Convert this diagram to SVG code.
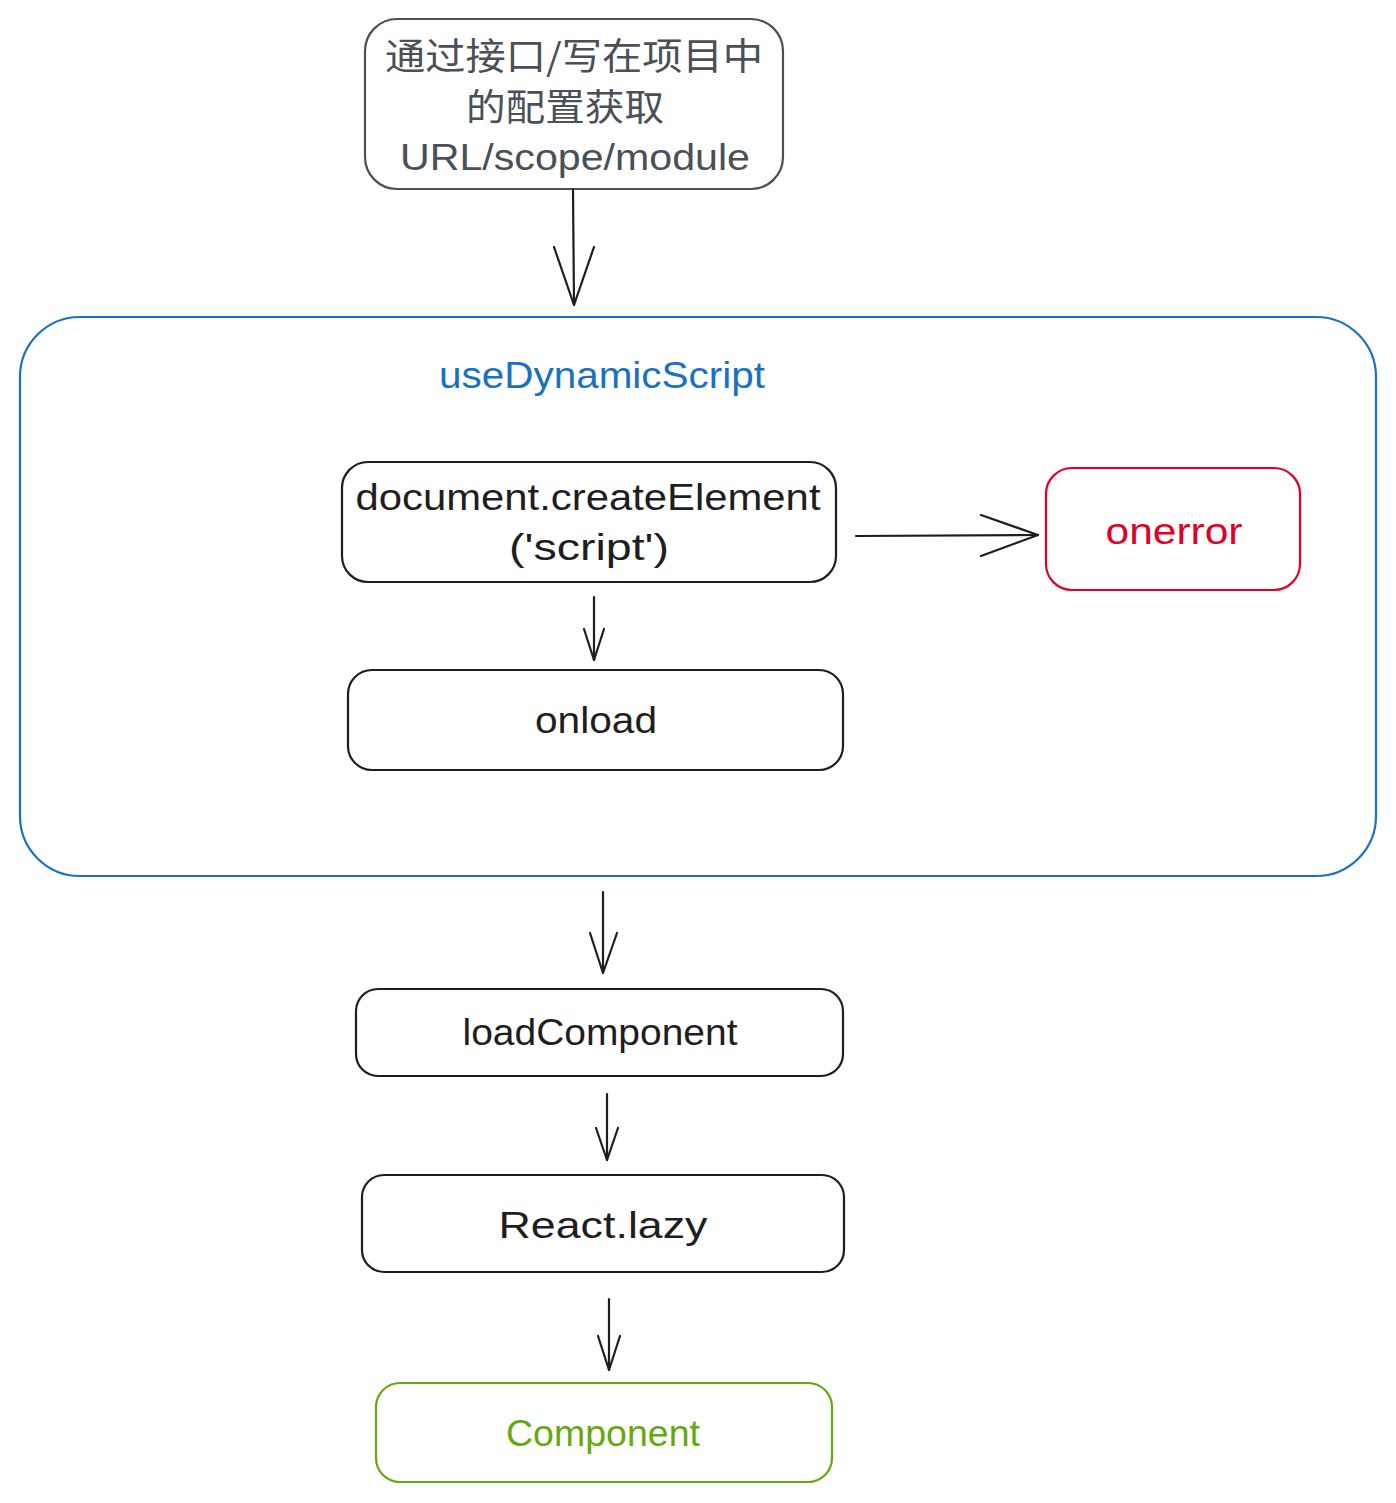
<svg xmlns="http://www.w3.org/2000/svg" width="1396" height="1503" viewBox="0 0 1396 1503">
<style>
.box{fill:none;stroke:#1e1e1e;stroke-width:2.2}
.t{font-family:"Liberation Sans","Noto Sans CJK SC",sans-serif;font-size:36px;fill:#1e1e1e;text-anchor:middle;dominant-baseline:central}
.cn{font-family:"Noto Sans CJK SC","Liberation Sans",sans-serif;font-size:37px;fill:#495057}
.c{fill:none;stroke:#1e1e1e;stroke-width:2.2;stroke-linecap:round;stroke-linejoin:round}
</style>
<rect width="1396" height="1503" fill="#ffffff"/>
<g id="config">
<rect x="365" y="19" width="418" height="170" rx="32" fill="none" stroke="#495057" stroke-width="2.2"/>
<text class="t cn" x="574" y="54" textLength="378" lengthAdjust="spacingAndGlyphs">通过接口/写在项目中</text>
<text class="t cn" x="565" y="105" textLength="198" lengthAdjust="spacingAndGlyphs">的配置获取</text>
<text class="t" x="575" y="157" style="fill:#495057" textLength="350" lengthAdjust="spacingAndGlyphs">URL/scope/module</text>
</g>
<g id="useDynamicScript">
<rect x="20" y="317" width="1356" height="559" rx="60" fill="none" stroke="#1971c2" stroke-width="2.2"/>
<text class="t" x="602" y="375" style="fill:#1971c2" textLength="326" lengthAdjust="spacingAndGlyphs">useDynamicScript</text>
</g>
<g id="createElement">
<rect class="box" x="342" y="462" width="494" height="120" rx="26"/>
<text class="t" x="588" y="497" textLength="465" lengthAdjust="spacingAndGlyphs">document.createElement</text>
<text class="t" x="589" y="547" textLength="160" lengthAdjust="spacingAndGlyphs">('script')</text>
</g>
<g id="onerror">
<rect x="1046" y="468" width="254" height="122" rx="26" fill="none" stroke="#e0002a" stroke-width="2.2"/>
<text class="t" x="1174" y="531" style="fill:#e0002a" textLength="137" lengthAdjust="spacingAndGlyphs">onerror</text>
</g>
<g id="onload">
<rect class="box" x="348" y="670" width="495" height="100" rx="24"/>
<text class="t" x="596" y="720" textLength="122" lengthAdjust="spacingAndGlyphs">onload</text>
</g>
<g id="loadComponent">
<rect class="box" x="356" y="989" width="487" height="87" rx="22"/>
<text class="t" x="600" y="1032" textLength="275" lengthAdjust="spacingAndGlyphs">loadComponent</text>
</g>
<g id="reactLazy">
<rect class="box" x="362" y="1175" width="482" height="97" rx="22"/>
<text class="t" x="603" y="1225" textLength="209" lengthAdjust="spacingAndGlyphs">React.lazy</text>
</g>
<g id="component">
<rect x="376" y="1383" width="456" height="99" rx="24" fill="none" stroke="#66a80f" stroke-width="2.2"/>
<text class="t" x="603" y="1433" style="fill:#66a80f" textLength="194" lengthAdjust="spacingAndGlyphs">Component</text>
</g>
<g id="connectors">
<path class="c" d="M573 190 L574 305"/>
<path class="c" d="M554 247 L574 305 L594 247"/>
<path class="c" d="M856 536 L1038 535"/>
<path class="c" d="M981 515 L1038 535 L981 556"/>
<path class="c" d="M594 597 L594 660"/>
<path class="c" d="M584 629 L594 660 L604 629"/>
<path class="c" d="M603 892 L603 973"/>
<path class="c" d="M590 933 L603 973 L617 933"/>
<path class="c" d="M607 1094 L607 1160"/>
<path class="c" d="M596 1128 L607 1160 L618 1128"/>
<path class="c" d="M609 1299 L609 1370"/>
<path class="c" d="M598 1336 L609 1370 L620 1336"/>
</g>
</svg>
